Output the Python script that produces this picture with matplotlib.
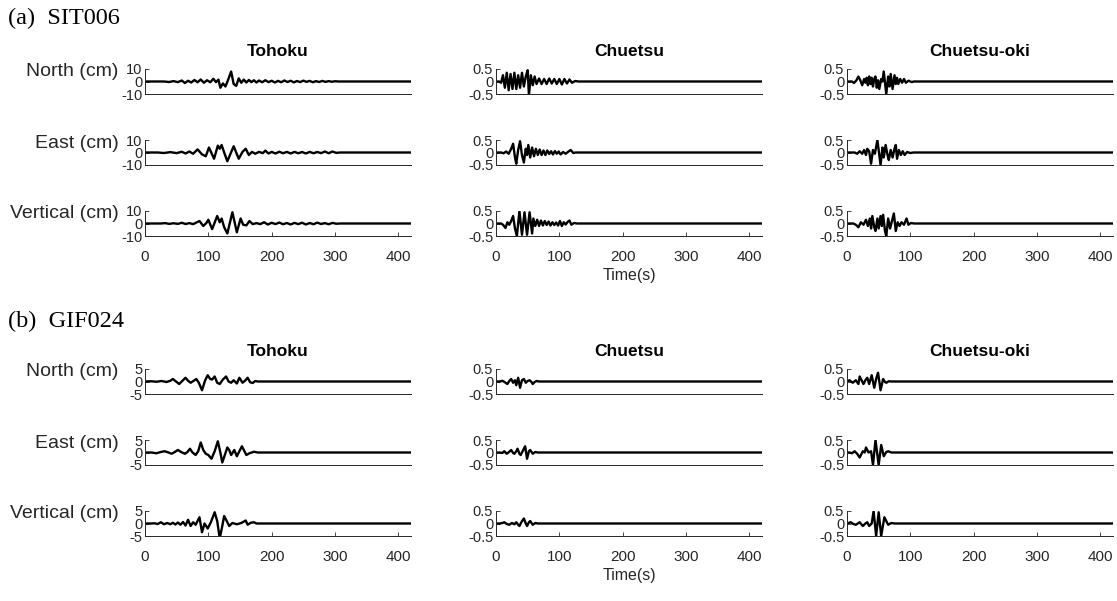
import numpy as np
import matplotlib
matplotlib.use("Agg")
import matplotlib.pyplot as plt

# --- data: (time s, displacement cm) ---
stations = ['(a)  SIT006', '(b)  GIF024']
events = ['Tohoku', 'Chuetsu', 'Chuetsu-oki']
components = ['North (cm)', 'East (cm)', 'Vertical (cm)']

# y limits per station/event
ylim_a = [10, 0.5, 0.5]
ylim_b = [5, 0.5, 0.5]

a_toh_n = [(0, 0), (30, 0), (38, -0.4), (45, 0.3), (52, -0.5), (58, 0.8), (63, -1.2), (68, 0.6), (73, -0.8),
           (78, 1.2), (83, -0.6), (88, 1.6), (93, -1.0), (98, 1.0), (103, -0.6), (108, 2.2), (112, -0.5),
           (116, 1.5), (119, -5.0), (123, -1.5), (127, -4.0), (131, 1.0), (136, 8.0), (140, -2.0),
           (144, -3.5), (148, 2.5), (152, -1.0), (156, 1.5), (160, -0.8), (164, 1.2), (168, -0.5),
           (172, 1.0), (176, -0.8), (180, 0.8), (185, -0.6), (190, 1.0), (195, -0.5), (200, 0.6),
           (205, -0.8), (210, 0.5), (215, -0.6), (220, 0.8), (225, -0.4), (230, 0.6), (235, -0.7),
           (240, 0.4), (245, -0.5), (250, 0.7), (255, -0.3), (260, 0.5), (265, -0.6), (270, 0.3),
           (275, -0.4), (280, 0.5), (285, -0.3), (290, 0.3), (295, -0.2), (300, 0.2), (306, 0), (420, 0)]
a_toh_e = [(0, 0), (20, 0), (30, -0.4), (40, 0.3), (50, -0.5), (58, 0.6), (64, -0.8), (70, 0.8), (76, -1.0),
           (83, 2.5), (90, -1.5), (96, -3.0), (101, 4.0), (109, -5.0), (115, 5.5), (118, 3.0), (121, 6.0),
           (125, 0.0), (130, -7.0), (140, 5.0), (148, -5.0), (154, 0.5), (159, 3.0), (164, -2.0),
           (169, 0.5), (174, -1.0), (180, 0.5), (186, -0.5), (190, 1.5), (195, -0.8), (200, 0.5),
           (206, -0.8), (212, 0.6), (218, -0.6), (224, 0.5), (230, -0.8), (236, 0.5), (242, -0.6),
           (248, 0.4), (254, -0.8), (260, 0.5), (266, -0.6), (272, 0.4), (278, -0.5), (284, 0.8),
           (290, -0.6), (296, 0.8), (302, -0.3), (308, 0), (420, 0)]
a_toh_v = [(0, 0), (25, 0), (32, 0.3), (38, -0.3), (45, 0.2), (52, -0.3), (58, 0.6), (64, -0.4), (70, 0.3),
           (76, -0.5), (82, 1.0), (86, 2.0), (92, -2.0), (97, 0.5), (100, 3.0), (106, -4.5), (114, 6.0),
           (118, 1.0), (121, 4.0), (125, -3.0), (130, -8.0), (138, 9.0), (145, -7.0), (151, 4.0),
           (155, -1.0), (160, -1.5), (165, 2.0), (170, -0.5), (176, 0.3), (182, -0.5), (188, 1.0),
           (194, -0.8), (200, 0.6), (206, -0.5), (212, 0.8), (218, -0.6), (224, 0.4), (230, -0.8),
           (236, 0.5), (242, -0.5), (248, 0.6), (254, -0.8), (260, 0.4), (266, -0.6), (272, 0.7),
           (278, -0.4), (284, 0.3), (290, -0.6), (296, 0.5), (302, -0.2), (308, 0), (420, 0)]

a_chu_n = [(0, 0), (5, 0), (8, -0.05), (11, 0.25), (14, -0.25), (17, 0.35), (20, -0.35), (23, 0.3),
           (26, -0.3), (29, 0.35), (32, -0.3), (35, 0.25), (38, -0.25), (41, 0.35), (44, -0.2),
           (47, 0.2), (50, 0.45), (52, -0.55), (55, 0.25), (58, -0.15), (61, 0.2), (64, -0.1), (68, 0.12),
           (72, -0.1), (76, 0.1), (80, -0.1), (84, 0.12), (88, -0.08), (92, 0.1), (96, -0.1), (100, 0.1),
           (104, -0.12), (108, 0.1), (112, -0.08), (116, 0.08), (120, -0.05), (125, 0.02), (130, 0), (420, 0)]
a_chu_e = [(0, 0), (8, 0), (12, -0.03), (16, 0.04), (20, -0.05), (24, 0.15), (27, 0.35), (30, -0.2),
           (32, -0.45), (35, 0.1), (38, 0.45), (41, -0.1), (44, -0.4), (47, 0.15), (49, -0.1), (51, 0.3),
           (54, -0.2), (57, 0.2), (60, -0.15), (63, 0.15), (66, -0.1), (69, 0.12), (72, -0.1), (75, 0.08),
           (78, -0.1), (81, 0.08), (84, -0.06), (87, 0.05), (90, -0.08), (93, 0.06), (96, -0.05), (99, 0.04),
           (102, -0.08), (106, 0.02), (110, -0.05), (114, 0.03), (118, 0.1), (122, -0.02), (126, 0), (420, 0)]
a_chu_v = [(0, 0), (8, 0), (11, -0.05), (15, -0.18), (18, 0.05), (21, -0.05), (24, 0.1), (27, 0.3), (30, -0.2),
           (33, -0.5), (37, 0.5), (41, -0.45), (45, 0.45), (49, -0.45), (53, 0.45), (57, -0.4), (59, 0.2),
           (62, -0.1), (65, 0.15), (68, -0.1), (71, 0.12), (74, -0.08), (77, 0.1), (80, -0.06), (83, 0.08),
           (86, -0.08), (89, 0.05), (92, -0.06), (95, 0.04), (98, -0.08), (101, 0.1), (104, -0.1), (107, 0.05),
           (110, -0.04), (113, 0.06), (116, 0.12), (119, -0.05), (123, 0.02), (128, 0), (420, 0)]

a_oki_n = [(0, 0), (8, 0), (11, -0.06), (15, 0.05), (18, 0.2), (21, 0.05), (24, -0.15), (27, 0.1), (29, -0.05),
           (31, 0.15), (33, -0.15), (35, 0.2), (37, -0.1), (39, 0.15), (41, -0.2), (43, 0.1), (45, 0.2),
           (47, -0.25), (49, 0.05), (51, -0.3), (54, 0.1), (56, 0.0), (58, 0.4), (62, -0.5), (65, 0.2),
           (67, -0.2), (69, 0.3), (72, -0.3), (75, 0.25), (77, -0.1), (79, 0.15), (81, -0.1), (84, 0.1),
           (87, -0.05), (90, 0.1), (93, -0.05), (97, 0.03), (102, -0.02), (106, 0), (420, 0)]
a_oki_e = [(0, 0), (12, 0), (16, -0.05), (20, 0.05), (24, -0.05), (27, 0.1), (30, -0.1), (32, 0.15), (35, 0.05),
           (38, -0.45), (41, 0.1), (44, -0.05), (48, 0.5), (53, -0.5), (56, 0.2), (58, -0.2), (61, 0.3),
           (64, -0.1), (66, -0.3), (69, 0.1), (72, -0.2), (75, 0.15), (77, 0.3), (79, -0.25), (82, 0.1),
           (85, -0.1), (88, 0.05), (91, -0.1), (95, 0.02), (100, -0.02), (105, 0), (420, 0)]
a_oki_v = [(0, 0), (10, 0), (14, -0.05), (18, -0.15), (22, 0.05), (26, -0.05), (30, 0.15), (33, -0.1), (36, 0.2),
           (38, -0.2), (40, 0.3), (43, -0.15), (45, -0.3), (48, 0.2), (50, -0.2), (53, 0.3), (55, -0.1),
           (57, 0.35), (60, -0.3), (62, -0.5), (65, 0.2), (68, -0.2), (71, 0.1), (74, 0.4), (77, -0.3),
           (80, 0.05), (83, -0.1), (86, 0.05), (90, -0.05), (94, 0.2), (97, -0.05), (101, 0.02), (106, 0), (420, 0)]

b_toh_n = [(0, 0), (10, 0.1), (18, -0.1), (26, 0.2), (34, -0.2), (40, 0.3), (44, 1.0), (50, -0.2), (54, -1.0),
           (60, 0.5), (64, 1.5), (68, 0.3), (72, -0.5), (77, 0.3), (81, 1.0), (85, -0.5), (90, -3.5), (95, 0.5),
           (99, 2.5), (103, 1.0), (106, 0.8), (110, 2.0), (114, -0.5), (118, -1.0), (123, 0.8), (128, 2.0),
           (132, 0.0), (136, -0.5), (140, 0.5), (145, -0.8), (149, 1.5), (154, -0.5), (158, 0.3), (162, 1.5),
           (166, -0.3), (170, -0.6), (174, 0.2), (178, 0), (420, 0)]
b_toh_e = [(0, 0), (10, 0), (18, -0.3), (25, 0.2), (31, 0.5), (37, 0.0), (42, -0.5), (47, 0.2), (52, 1.0),
           (57, 0.2), (63, -0.5), (67, 0.2), (71, 1.5), (75, 0.0), (80, -1.0), (84, 0.5), (88, 4.0), (92, 1.0),
           (96, -0.5), (100, -1.0), (105, -2.5), (110, 0.5), (115, 4.5), (119, 0.0), (122, -4.0), (126, -1.0),
           (130, 2.0), (133, 1.0), (136, -1.0), (141, 1.0), (145, -1.5), (149, 0.5), (153, 2.5), (157, 0.5),
           (160, -1.0), (165, -0.3), (172, 0.3), (178, 0), (420, 0)]
b_toh_v = [(0, 0), (10, 0), (15, 0.1), (20, -0.2), (25, 0.5), (30, -0.3), (35, 0.2), (40, -0.3), (44, 0.3),
           (48, -0.4), (52, 0.4), (56, -0.5), (60, 0.6), (64, -0.8), (68, 1.5), (72, -1.0), (76, 0.5),
           (80, -0.5), (86, 2.5), (90, -3.5), (94, 0.0), (99, -2.0), (104, 0.5), (110, 4.5), (114, 1.0),
           (118, -6.0), (122, -1.0), (125, 3.0), (129, 1.0), (133, -1.0), (138, 0.2), (145, -0.3), (152, 0.2),
           (159, 1.2), (162, -0.5), (167, 0.3), (172, 0.5), (176, 0), (420, 0)]

b_chu_n = [(0, 0), (6, 0), (10, 0.03), (14, -0.03), (18, -0.1), (21, 0.02), (24, 0.1), (27, -0.05), (30, 0.05),
           (32, -0.15), (35, 0.15), (38, -0.25), (41, 0.05), (44, 0.1), (47, -0.05), (50, 0.02), (53, 0.05),
           (56, -0.02), (58, -0.1), (61, -0.02), (64, 0.02), (68, 0), (420, 0)]
b_chu_e = [(0, 0), (6, 0), (10, -0.02), (13, 0.05), (17, -0.05), (21, 0.03), (24, 0.1), (27, -0.02), (29, -0.05),
           (32, 0.05), (34, 0.15), (37, -0.05), (39, -0.1), (42, 0.05), (46, 0.25), (49, -0.25), (52, 0.05),
           (54, 0.1), (58, -0.05), (62, 0.02), (66, 0), (420, 0)]
b_chu_v = [(0, 0), (6, 0), (10, 0.02), (13, 0.05), (17, -0.02), (21, -0.05), (25, 0.02), (29, -0.03), (32, 0.05),
           (35, -0.05), (37, -0.1), (40, 0.05), (44, 0.2), (47, 0.0), (49, -0.1), (52, 0.05), (54, 0.1),
           (58, -0.05), (62, 0.02), (66, 0), (420, 0)]

b_oki_n = [(0, 0), (4, 0.05), (9, -0.05), (14, 0.05), (18, -0.1), (20, 0.2), (23, 0.05), (26, -0.1), (29, 0.05),
           (32, 0.15), (35, -0.1), (39, 0.25), (43, -0.25), (46, 0.1), (49, 0.35), (53, -0.35), (57, 0.1),
           (60, -0.02), (62, -0.05), (66, 0.01), (70, 0), (420, 0)]
b_oki_e = [(0, 0), (4, 0), (8, -0.03), (12, 0.05), (16, -0.05), (20, -0.2), (25, 0.05), (28, 0.0), (30, 0.2),
           (34, 0.0), (38, 0.05), (41, -0.5), (45, 0.5), (50, -0.5), (54, 0.3), (58, -0.15), (62, 0.02),
           (65, 0.05), (70, 0), (420, 0)]
b_oki_v = [(0, 0), (6, 0.05), (10, -0.02), (14, -0.05), (20, 0.05), (25, -0.1), (29, 0.0), (32, 0.05),
           (35, -0.1), (39, 0.0), (42, 0.5), (46, -0.5), (50, 0.45), (54, -0.5), (59, 0.25), (65, -0.05),
           (70, 0.02), (75, 0), (90, 0), (420, 0)]

data = {
    0: [[a_toh_n, a_chu_n, a_oki_n], [a_toh_e, a_chu_e, a_oki_e], [a_toh_v, a_chu_v, a_oki_v]],
    1: [[b_toh_n, b_chu_n, b_oki_n], [b_toh_e, b_chu_e, b_oki_e], [b_toh_v, b_chu_v, b_oki_v]],
}
ylims = [ylim_a, ylim_b]

# --- figure ---
W, H = 1117, 601
plt.rcParams['font.family'] = ['Liberation Sans', 'DejaVu Sans']
plt.rcParams['axes.unicode_minus'] = False
grey = '#262626'

fig = plt.figure(figsize=(W / 100, H / 100), dpi=100)

col_left = [145, 496, 847]
col_w = 266
row_top = [[69, 140, 211], [369, 440, 511]]
row_h = 25
group_y = [18, 321]

for g in range(2):
    fig.text(8 / W, 1 - group_y[g] / H, stations[g], family='Liberation Serif',
             fontsize=17.5, va='center', ha='left')
    for r in range(3):
        for c in range(3):
            ax = fig.add_axes([col_left[c] / W, 1 - (row_top[g][r] + row_h) / H,
                               col_w / W, row_h / H])
            pts = np.array(data[g][r][c], dtype=float)
            ax.plot(pts[:, 0], pts[:, 1], color='black', lw=1.7)
            lim = ylims[g][c]
            ax.set_xlim(0, 420)
            ax.set_ylim(-lim, lim)
            ax.set_yticks([-lim, 0, lim])
            ax.set_yticklabels(['%g' % -lim, '0', '%g' % lim])
            for s in ['top', 'right']:
                ax.spines[s].set_visible(False)
            for s in ['left', 'bottom']:
                ax.spines[s].set_color(grey)
                ax.spines[s].set_linewidth(0.7)
            ax.tick_params(direction='in', length=3, width=0.6, colors=grey,
                           labelsize=11, pad=2)
            ax.tick_params(axis='y', labelsize=10.5)
            if r == 2:
                ax.set_xticks([0, 100, 200, 300, 400])
                ax.tick_params(axis='x', pad=10)
                if c == 1:
                    ax.set_xlabel('Time(s)', fontsize=11.5, color=grey, labelpad=3)
            else:
                ax.set_xticks([])
            if r == 0:
                ax.set_title(events[c], fontsize=12.5, fontweight='bold', pad=9)
            if c == 0:
                ax.set_ylabel(components[r], rotation=0, ha='right', va='center',
                              fontsize=14, color=grey)
                ax.yaxis.set_label_coords(-0.1, 0.88)
            ax.patch.set_alpha(0)

fig.savefig('out.png', dpi=100)
